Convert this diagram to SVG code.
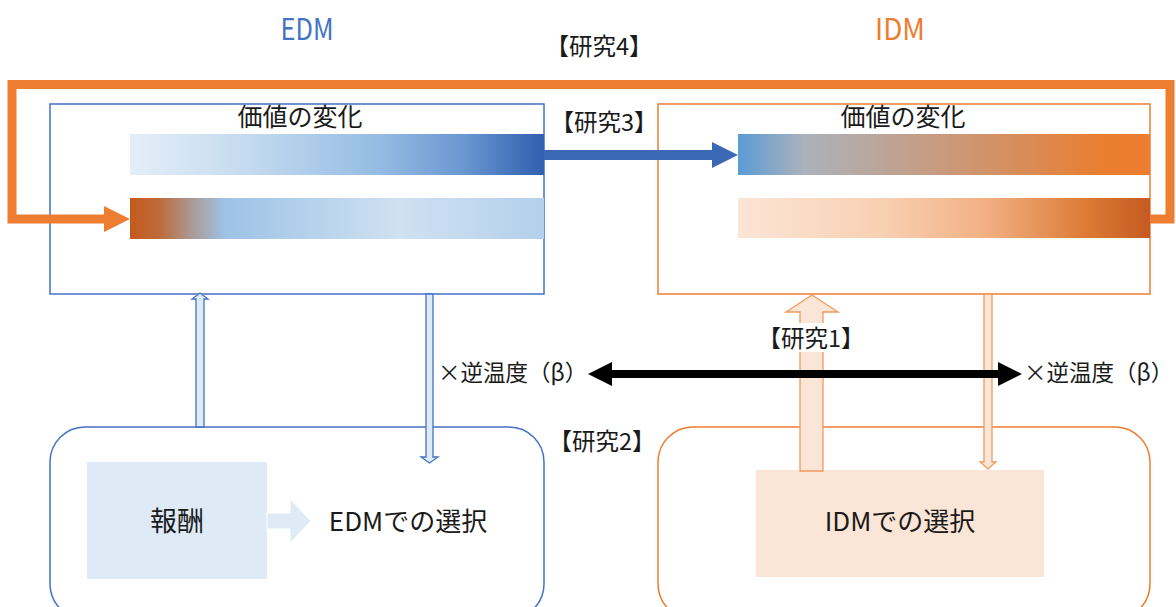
<svg xmlns="http://www.w3.org/2000/svg" width="1176" height="607" viewBox="0 0 1176 607">
<defs>
<style>
text{font-family:"Noto Sans CJK JP","Noto Sans",sans-serif;fill:#1a1a1a;text-anchor:middle}
.title{font-size:30px}
.lab{font-size:23.5px}
.beta{font-size:22.5px;text-anchor:start}
.val{font-size:25px}
.big{font-size:26px}
.blueLine{fill:none;stroke:#4472C4;stroke-width:1.5}
.orLine{fill:none;stroke:#ED7D31;stroke-width:1.5}
.thinB{fill:#DEEBF7;stroke:#4472C4;stroke-width:1.3}
.thinO{fill:#FBE5D6;stroke:#F19A5C;stroke-width:1.3}
</style>
<linearGradient id="gEdmBox" x1="0" y1="0" x2="1" y2="0">
<stop offset="0" stop-color="#FFFFFF"/>
<stop offset="0.18" stop-color="#FFFFFF"/>
<stop offset="0.6" stop-color="#D6E6F4"/>
<stop offset="1" stop-color="#9DC3E6"/>
</linearGradient>
<linearGradient id="gEdmTop" x1="0" y1="0" x2="1" y2="0">
<stop offset="0" stop-color="#E4EEF8"/>
<stop offset="0.3" stop-color="#C2D9EF"/>
<stop offset="0.6" stop-color="#95BCE3"/>
<stop offset="0.8" stop-color="#6C98D2"/>
<stop offset="1" stop-color="#2F5FAF"/>
</linearGradient>
<linearGradient id="gEdmBot" x1="0" y1="0" x2="1" y2="0">
<stop offset="0" stop-color="#C55A1E"/>
<stop offset="0.07" stop-color="#BD6A3A"/>
<stop offset="0.16" stop-color="#A8A0A0"/>
<stop offset="0.23" stop-color="#9DC3E6"/>
<stop offset="0.65" stop-color="#CFE1F2"/>
<stop offset="1" stop-color="#B4D0EC"/>
</linearGradient>
<linearGradient id="gIdmBox" x1="0" y1="0" x2="1" y2="0">
<stop offset="0" stop-color="#FFFFFF"/>
<stop offset="0.18" stop-color="#FFFFFF"/>
<stop offset="0.55" stop-color="#FBE5D6"/>
<stop offset="1" stop-color="#EEA777"/>
</linearGradient>
<linearGradient id="gIdmTop" x1="0" y1="0" x2="1" y2="0">
<stop offset="0" stop-color="#5B9BD5"/>
<stop offset="0.16" stop-color="#ABB2BC"/>
<stop offset="0.5" stop-color="#C99A7D"/>
<stop offset="0.9" stop-color="#EA7D2E"/>
<stop offset="1" stop-color="#ED7D31"/>
</linearGradient>
<linearGradient id="gIdmBot" x1="0" y1="0" x2="1" y2="0">
<stop offset="0" stop-color="#FBE5D6"/>
<stop offset="0.35" stop-color="#F8D0B2"/>
<stop offset="0.6" stop-color="#F2B083"/>
<stop offset="0.85" stop-color="#DC7A34"/>
<stop offset="1" stop-color="#C55A22"/>
</linearGradient>
</defs>

<g id="titles">
<text class="title" x="307" y="40" style="fill:#4472C4" textLength="53" lengthAdjust="spacingAndGlyphs">EDM</text>
<text class="title" x="900" y="40" style="fill:#ED7D31" textLength="50" lengthAdjust="spacingAndGlyphs">IDM</text>
<text class="lab" x="599" y="55">【研究4】</text>
</g>

<g id="edm-value">
<rect x="50" y="104" width="494" height="190" fill="url(#gEdmBox)" class="blueLine"/>
<rect x="130" y="134" width="414" height="41" fill="url(#gEdmTop)"/>
<rect x="130" y="198" width="414" height="41" fill="url(#gEdmBot)"/>
<text class="val" x="300" y="126">価値の変化</text>
</g>

<g id="idm-value">
<rect x="658" y="104" width="492" height="190" fill="url(#gIdmBox)" class="orLine"/>
<rect x="738" y="134" width="412" height="41" fill="url(#gIdmTop)"/>
<rect x="738" y="198" width="412" height="40" fill="url(#gIdmBot)"/>
<text class="val" x="903" y="126">価値の変化</text>
</g>

<g id="edm-choice">
<rect x="50" y="427" width="494" height="192" rx="35" fill="#FFFFFF" class="blueLine"/>
<rect x="87" y="462" width="180" height="117" fill="#DEEBF7"/>
<polygon points="267,513 290,513 290,499 311,521 290,543 290,529 267,529" fill="#DEEBF7" stroke="#FFFFFF" stroke-width="1"/>
<text class="big" x="177" y="531" style="font-size:27px">報酬</text>
<text class="big" x="408" y="531">EDMでの選択</text>
</g>

<g id="idm-choice">
<rect x="658" y="427" width="492" height="192" rx="35" fill="#FFFFFF" class="orLine"/>
<rect x="756" y="470" width="288" height="107" fill="#FBE5D6"/>
<text class="big" x="900" y="531">IDMでの選択</text>
</g>

<g id="connectors">
<polyline points="1150,219 1170,219 1170,84.5 12,84.5 12,219 106,219" fill="none" stroke="#ED7D31" stroke-width="9" stroke-linejoin="miter"/>
<polygon points="104,206 130,219 104,232" fill="#ED7D31"/>
<rect x="544" y="150" width="170" height="10" fill="#3A68B4"/>
<polygon points="712,142 738,155 712,168" fill="#3A68B4"/>
<polygon class="thinB" points="196,427 196,299 192,299 200,293 208,299 204,299 204,427"/>
<polygon class="thinB" points="426,294 426,457 421,457 429.5,463 438,457 433,457 433,294"/>
<polygon class="thinO" points="984,294 984,462 980,462 988,469 996,462 992,462 992,294"/>
<polygon class="thinO" points="800,471 800,312 786,312 812,295 838,312 823,312 823,471"/>
<rect x="762" y="323" width="98" height="29" fill="#FFFFFF"/>
<text class="lab" x="811" y="347">【研究1】</text>
<rect x="610" y="370" width="390" height="8" fill="#000000"/>
<polygon points="612,362 588,374 612,386" fill="#000000"/>
<polygon points="998,362 1022,374 998,386" fill="#000000"/>
<text class="beta" x="438" y="381">×逆温度（β）</text>
<text class="beta" x="1024" y="381">×逆温度（β）</text>
<text class="lab" x="604" y="131">【研究3】</text>
<text class="lab" x="602" y="450">【研究2】</text>
</g>
</svg>
